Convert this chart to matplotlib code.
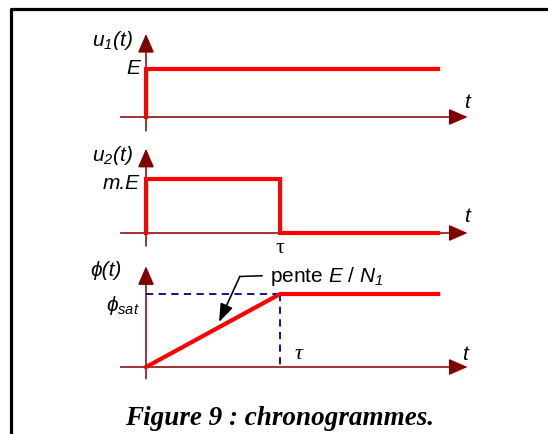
import matplotlib.pyplot as plt

plt.rcParams['font.family'] = ['Liberation Sans', 'DejaVu Sans']
plt.rcParams['mathtext.fontset'] = 'custom'
plt.rcParams['mathtext.it'] = 'Liberation Sans:italic'
plt.rcParams['mathtext.rm'] = 'Liberation Sans:italic'

# time base (t = 0 at the step, tau = 1)
tau = 1.0
t_end = 2.18

# u1(t): step of height E
u1_t = [0, 0, t_end]
u1_v = [0, 1, 1]

# u2(t): pulse of height m.E until tau
u2_t = [0, 0, tau, tau, t_end]
u2_v = [0, 1, 1, 0, 0]

# phi(t): ramp up to phi_sat at tau, then flat
phi_t = [0, tau, t_end]
phi_v = [0, 1, 1]

W, H = 548, 435
RED = '#ff0000'
AXC = '#800000'
NAVY = '#000080'

fig = plt.figure(figsize=(W / 100, H / 100), dpi=100)

# frame around the figure
bg = fig.add_axes([0, 0, 1, 1])
bg.set_xlim(0, W)
bg.set_ylim(H, 0)
bg.axis('off')
bg.plot([11, 11, W + 5], [H + 5, 10, 10], color='black', lw=2.3, solid_capstyle='projecting')


def panel(top, bot, y0, unit):
    # axes whose data coords map t=0 -> x 146 px, 1 unit of t -> 134 px
    ax = fig.add_axes([60 / W, 1 - bot / H, 460 / W, (bot - top) / H])
    ax.set_xlim((60 - 146) / 134, (520 - 146) / 134)
    ax.set_ylim((y0 - bot) / unit, (y0 - top) / unit)
    ax.axis('off')
    return ax


def axes_arrows(ax, ybot, ytop):
    style = dict(arrowstyle='-|>,head_length=1.15,head_width=0.5', color=AXC,
                 lw=1.1, shrinkA=0, shrinkB=0, mutation_scale=10)
    ax.annotate('', xy=(2.40, 0), xytext=(-0.19, 0), arrowprops=style)
    ax.annotate('', xy=(0, ytop), xytext=(0, ybot), arrowprops=style)


lab = dict(fontsize=15, style='italic')

# --- u1 ---
ax1 = panel(25, 140, 118, 48)
axes_arrows(ax1, -0.29, 1.73)
ax1.plot(u1_t, u1_v, color=RED, lw=3, solid_joinstyle='miter', zorder=3)
ax1.text(-0.10, 1.62, r'$u_{1}(t)$', ha='right', va='center', fontsize=15)
ax1.text(-0.045, 1.04, 'E', ha='right', va='center', **lab)
ax1.text(2.395, 0.33, 't', ha='center', va='center', **lab)

# --- u2 ---
ax2 = panel(140, 255, 234, 54)
axes_arrows(ax2, -0.24, 1.56)
ax2.plot(u2_t, u2_v, color=RED, lw=3, solid_joinstyle='miter', zorder=3)
ax2.text(-0.10, 1.46, r'$u_{2}(t)$', ha='right', va='center', fontsize=15)
ax2.text(-0.045, 0.94, 'm.E', ha='right', va='center', **lab)
ax2.text(tau, -0.27, 'τ', ha='center', va='center', fontsize=16,
         family='Liberation Serif')
ax2.text(2.395, 0.33, 't', ha='center', va='center', **lab)

# --- phi ---
ax3 = panel(255, 390, 368, 73)
axes_arrows(ax3, -0.16, 1.38)
ax3.plot([0, tau], [1, 1], color=NAVY, lw=1.3, dashes=(4, 3))
ax3.plot([tau, tau], [1, 0], color=NAVY, lw=1.3, dashes=(4, 3))
ax3.plot(phi_t, phi_v, color=RED, lw=3, solid_joinstyle='miter', zorder=3)
ax3.text(-0.18, 1.34, 'ϕ(t)', ha='right', va='center', **lab)
ax3.text(-0.045, 0.86, r'$\phi_{sat}$', ha='right', va='center', fontsize=15)
ax3.text(1.14, 0.18, 'τ', ha='center', va='center', fontsize=16,
         family='Liberation Serif', style='italic')
ax3.text(2.38, 0.18, 't', ha='center', va='center', **lab)
ax3.text(0.925, 1.25, r'pente $E$ / $N_{1}$', ha='left', va='center',
         fontsize=15)
ax3.plot([0.866, 0.70], [1.25, 1.24], color='black', lw=1.1)
ax3.annotate('', xy=(0.545, 0.616), xytext=(0.70, 1.24),
             arrowprops=dict(arrowstyle='-|>,head_length=1.1,head_width=0.4',
                             color='black', lw=1.2, shrinkA=0, shrinkB=0,
                             mutation_scale=10))

fig.text(280 / W, 1 - 425 / H, 'Figure 9 : chronogrammes.', ha='center', va='baseline',
         fontsize=19.5, family='Liberation Serif', weight='bold', style='italic')

fig.savefig('out.png', dpi=100)
